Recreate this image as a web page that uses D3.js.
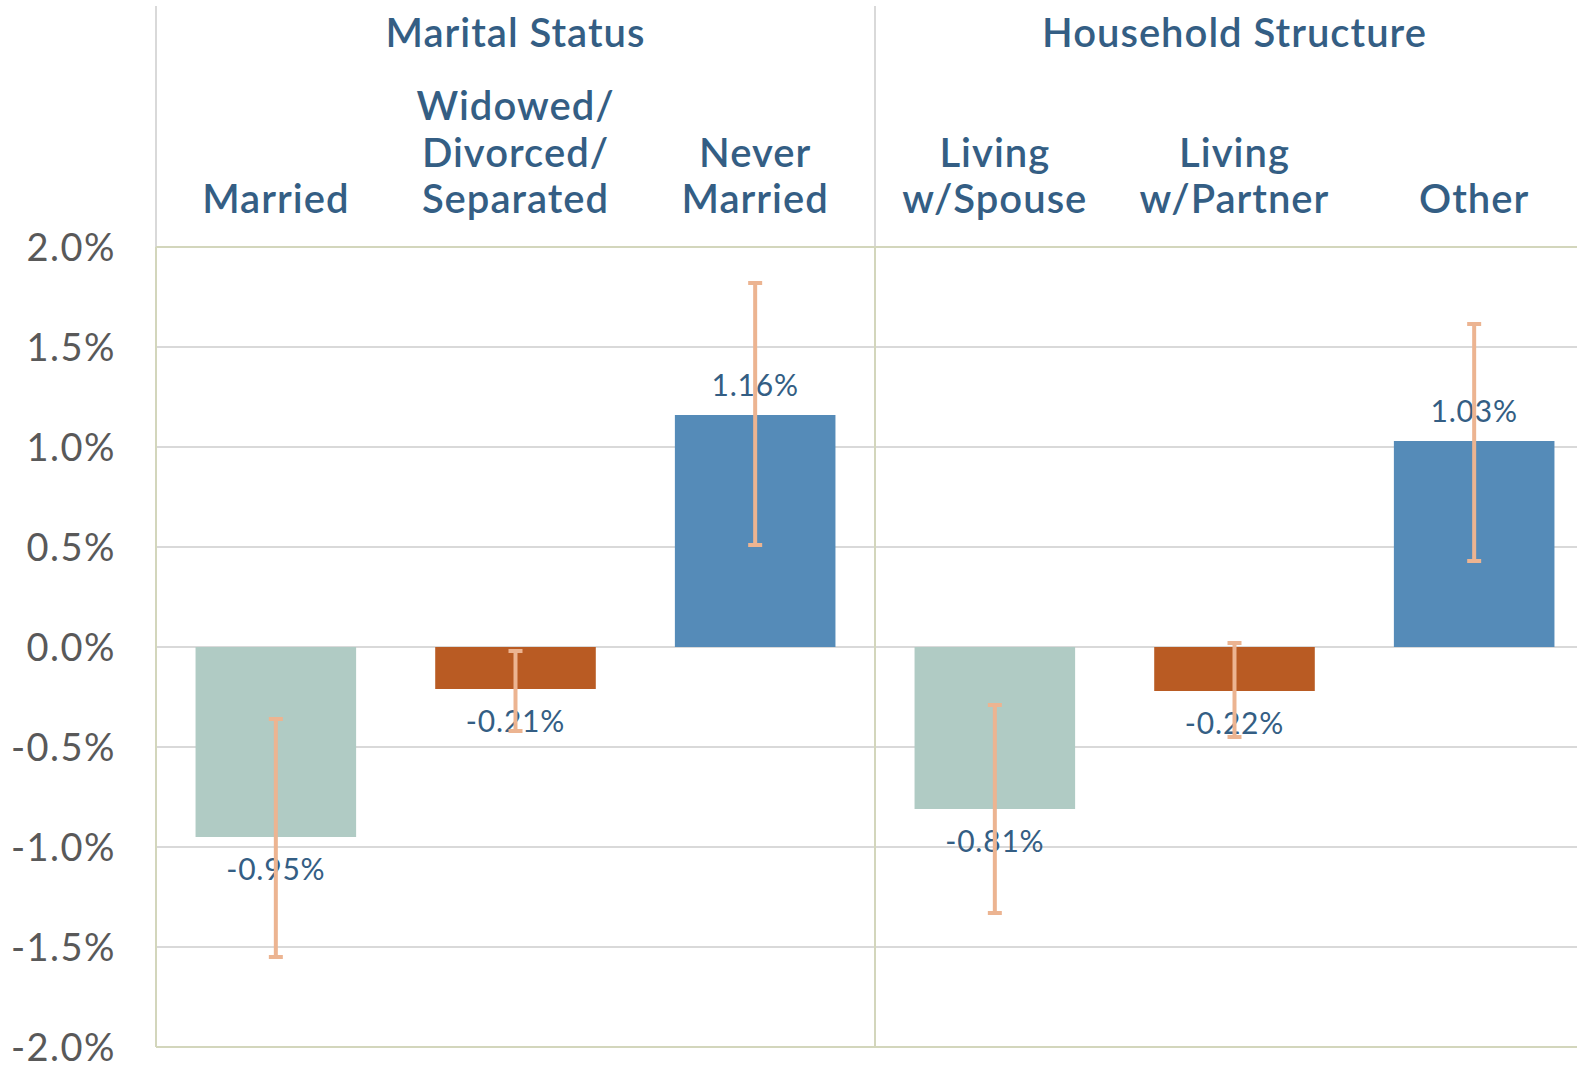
<!DOCTYPE html>
<meta charset="utf-8">
<style>
body { margin: 0; background: #fff; }
svg { font-family: Lato, "Open Sans", sans-serif; display: block; }
</style>
<svg width="1577" height="1067"></svg>
<script src="https://d3js.org/d3.v7.min.js"></script>
<script>

var groups = ["Marital Status", "Household Structure"];
var categories = ["Married", "Widowed/\nDivorced/\nSeparated", "Never\nMarried",
                  "Living\nw/Spouse", "Living\nw/Partner", "Other"];
var values = [-0.95, -0.21, 1.16, -0.81, -0.22, 1.03];
var errLow = [-1.55, -0.42, 0.51, -1.33, -0.45, 0.43];
var errHigh = [-0.36, -0.02, 1.82, -0.29, 0.02, 1.615];
var yTicks = [-2, -1.5, -1, -0.5, 0, 0.5, 1, 1.5, 2];

var svg = d3.select("svg");

var colors = ["#b0cbc4", "#b95b23", "#558bb8"],
    textBlue = "#345e84",
    olive = "#d3d6bc",
    grid = "#d9d9d9",
    errColor = "#ecb491";

var plotL = 156, plotR = 1594, plotT = 247, plotB = 1047;

var x = d3.scaleBand()
    .domain(d3.range(categories.length))
    .range([plotL, plotR])
    .paddingInner(0.33)
    .paddingOuter(0.165);

var y = d3.scaleLinear().domain([-2, 2]).range([plotB, plotT]);

var groupX = d3.scaleBand().domain(d3.range(groups.length)).range([plotL, plotR]);

// plain hyphen for negatives, like the original
function pct(d, n) { return (d < 0 ? "-" : "") + Math.abs(d).toFixed(n) + "%"; }

// gridlines
svg.append("g").selectAll("line")
  .data(yTicks.filter(function(d) { return d > -2 && d < 2; }))
  .enter().append("line")
    .attr("x1", plotL).attr("x2", plotR)
    .attr("y1", function(d) { return y(d); })
    .attr("y2", function(d) { return y(d); })
    .attr("stroke", grid)
    .attr("stroke-width", 2);

// header vertical lines
svg.append("g").selectAll("line")
  .data(groups)
  .enter().append("line")
    .attr("x1", function(d, i) { return groupX(i); })
    .attr("x2", function(d, i) { return groupX(i); })
    .attr("y1", 6).attr("y2", plotT)
    .attr("stroke", grid)
    .attr("stroke-width", 2);

// frame lines
var frame = svg.append("g").attr("stroke", olive).attr("stroke-width", 2);
frame.append("line").attr("x1", plotL).attr("x2", plotR).attr("y1", plotT).attr("y2", plotT);
frame.append("line").attr("x1", plotL).attr("x2", plotR).attr("y1", plotB).attr("y2", plotB);
frame.selectAll("line.v")
  .data(groups)
  .enter().append("line")
    .attr("class", "v")
    .attr("x1", function(d, i) { return groupX(i); })
    .attr("x2", function(d, i) { return groupX(i); })
    .attr("y1", plotT).attr("y2", plotB);

// bars
svg.append("g").selectAll("rect")
  .data(values)
  .enter().append("rect")
    .attr("x", function(d, i) { return x(i); })
    .attr("width", x.bandwidth())
    .attr("y", function(d) { return y(Math.max(0, d)); })
    .attr("height", function(d) { return Math.abs(y(d) - y(0)); })
    .attr("fill", function(d, i) { return colors[i % 3]; });

// value labels
svg.append("g").selectAll("text")
  .data(values)
  .enter().append("text")
    .attr("x", function(d, i) { return x(i) + x.bandwidth() / 2; })
    .attr("y", function(d) { return d >= 0 ? y(d) - 19 : y(d) + 43; })
    .attr("text-anchor", "middle")
    .attr("fill", textBlue)
    .attr("font-size", 30)
    .attr("letter-spacing", 0.8)
    .text(function(d) { return pct(d, 2); });

// error bars
var err = svg.append("g").attr("stroke", errColor).attr("stroke-width", 4);
values.forEach(function(d, i) {
  var cx = x(i) + x.bandwidth() / 2;
  err.append("line").attr("x1", cx).attr("x2", cx)
    .attr("y1", y(errLow[i])).attr("y2", y(errHigh[i]));
  [errLow[i], errHigh[i]].forEach(function(v) {
    err.append("line").attr("x1", cx - 7).attr("x2", cx + 7)
      .attr("y1", y(v)).attr("y2", y(v));
  });
});

// y tick labels
svg.append("g").selectAll("text")
  .data(yTicks)
  .enter().append("text")
    .attr("x", 116)
    .attr("y", function(d) { return y(d); })
    .attr("dy", "0.38em")
    .attr("text-anchor", "end")
    .attr("fill", "#595959")
    .attr("font-size", 38)
    .attr("letter-spacing", 1.5)
    .text(function(d) { return pct(d, 1); });

// group titles
svg.append("g").selectAll("text")
  .data(groups)
  .enter().append("text")
    .attr("x", function(d, i) { return groupX(i) + groupX.bandwidth() / 2; })
    .attr("y", 47)
    .attr("text-anchor", "middle")
    .attr("fill", textBlue)
    .attr("font-size", 40)
    .attr("font-weight", 600)
    .attr("letter-spacing", 1)
    .text(function(d) { return d; });

// category labels, bottom aligned
var cat = svg.append("g").selectAll("text")
  .data(categories)
  .enter().append("text")
    .attr("text-anchor", "middle")
    .attr("fill", textBlue)
    .attr("font-size", 40)
    .attr("font-weight", 600)
    .attr("letter-spacing", 1);

cat.each(function(d, i) {
  var lines = d.split("\n"), n = lines.length;
  d3.select(this).selectAll("tspan")
    .data(lines)
    .enter().append("tspan")
      .attr("x", x(i) + x.bandwidth() / 2)
      .attr("y", function(l, j) { return 213 - (n - 1 - j) * 46.5; })
      .text(function(l) { return l; });
});

</script>
